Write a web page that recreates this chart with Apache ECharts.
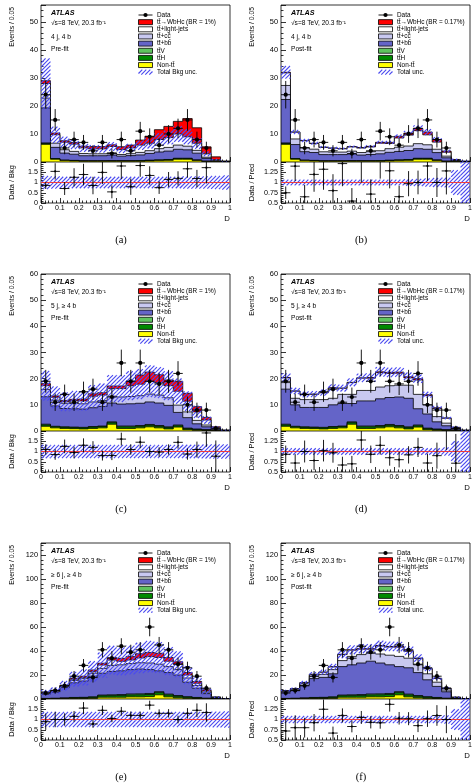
<!DOCTYPE html>
<html>
<head>
<meta charset="utf-8">
<script src="https://cdn.jsdelivr.net/npm/echarts@6/dist/echarts.min.js"></script>
<style>
html, body { margin: 0; padding: 0; background: #fff; }
#chart { width: 475px; height: 784px; }
</style>
</head>
<body>
<div id="chart"></div>
<script>
// bin edges of the discriminant D (20 bins of 0.05)
const binEdges = [0, 0.05, 0.1, 0.15, 0.2, 0.25, 0.3, 0.35, 0.4, 0.45, 0.5, 0.55, 0.6, 0.65, 0.7, 0.75, 0.8, 0.85, 0.9, 0.95, 1]

// ---- 4 j, 4 b ----
const dataRow1 = [24, 15, 5, 8, 7, 4, 7, 3, 8, 4, 11, 9, 6, 10, 12, 15, 8, 5, 0, 0]
const ntRow1 = [6.3, 1.0, 0.5, 0.4, 0.3, 0.3, 0.3, 0.3, 0.3, 0.3, 0.3, 0.4, 0.5, 0.6, 1.0, 1.0, 0.5, 0.2, 0.05, 0]
const tthRow1 = [0.3, 0.12, 0.1, 0.1, 0.08, 0.08, 0.08, 0.1, 0.1, 0.1, 0.12, 0.15, 0.15, 0.18, 0.2, 0.2, 0.15, 0.06, 0.02, 0]
const ttvRow1 = [0.2, 0.1, 0.08, 0.08, 0.06, 0.06, 0.06, 0.08, 0.08, 0.08, 0.1, 0.1, 0.12, 0.12, 0.14, 0.14, 0.1, 0.04, 0.01, 0]
const bbA = [12.5, 4.0, 2.5, 2.2, 1.8, 1.8, 1.8, 2.0, 1.6, 1.8, 2.0, 2.4, 2.8, 3.0, 3.2, 3.0, 2.4, 1.0, 0.3, 0.05]
const ccA = [3.5, 1.5, 1.2, 1.0, 0.8, 0.7, 0.7, 0.8, 0.6, 0.7, 0.9, 1.0, 1.2, 1.3, 1.5, 1.3, 1.0, 0.4, 0.1, 0.02]
const lightA = [5.2, 3.0, 2.7, 2.6, 2.0, 1.75, 1.75, 2.25, 1.75, 2.05, 2.6, 2.65, 3.25, 3.5, 3.95, 3.35, 2.55, 1.2, 0.35, 0.1]
const sigA = [1.0, 0.6, 0.5, 0.6, 0.6, 0.8, 0.8, 0.6, 1.0, 1.0, 1.8, 2.5, 3.5, 4.0, 4.5, 6.5, 5.5, 2.5, 1.0, 0.2]
const uncA = [0.32, 0.3, 0.28, 0.28, 0.28, 0.28, 0.28, 0.28, 0.28, 0.28, 0.28, 0.28, 0.28, 0.28, 0.28, 0.3, 0.3, 0.3, 0.32, 0.35]
const bbB = [15.5, 5.0, 3.0, 2.8, 2.2, 2.2, 2.2, 2.4, 2.0, 2.2, 2.4, 2.8, 3.0, 3.2, 3.4, 3.2, 2.6, 1.2, 0.3, 0.1]
const ccB = [5.0, 2.0, 1.5, 1.2, 1.0, 0.9, 0.9, 1.0, 0.9, 1.0, 1.1, 1.3, 1.5, 1.6, 1.8, 1.6, 1.2, 0.6, 0.15, 0.05]
const lightB = [4.5, 2.4, 2.4, 2.0, 1.55, 1.35, 1.15, 1.5, 1.6, 1.7, 2.7, 1.85, 3.3, 3.9, 4.65, 3.55, 2.55, 1.4, 0.22, 0.1]
const sigB = [0.2, 0.1, 0.1, 0.1, 0.1, 0.1, 0.1, 0.1, 0.2, 0.2, 0.3, 0.4, 0.6, 0.7, 0.8, 1.0, 0.9, 0.4, 0.15, 0.05]
const uncB = [0.07, 0.07, 0.07, 0.07, 0.07, 0.07, 0.07, 0.07, 0.07, 0.07, 0.07, 0.07, 0.07, 0.08, 0.09, 0.1, 0.11, 0.12, 0.3, 0.6]

// ---- 5 j, >= 4 b ----
const dataRow2 = [19, 11, 14, 11, 15, 16, 11, 13, 26, 19, 26, 19, 18, 19, 22, 10, 8, 8, 1, 0]
const ntRow2 = [1.8, 1.2, 1.0, 0.9, 0.8, 1.0, 1.2, 2.6, 1.0, 1.0, 1.2, 1.6, 1.2, 0.8, 1.5, 0.5, 0.3, 0.2, 0.1, 0]
const tthRow2 = [0.5, 0.4, 0.4, 0.4, 0.4, 0.5, 0.5, 0.6, 0.6, 0.6, 0.6, 0.6, 0.6, 0.5, 0.5, 0.4, 0.3, 0.2, 0.05, 0]
const ttvRow2 = [0.3, 0.2, 0.2, 0.2, 0.2, 0.2, 0.2, 0.3, 0.3, 0.3, 0.3, 0.3, 0.3, 0.3, 0.3, 0.2, 0.15, 0.1, 0.05, 0]
const bbC = [10.5, 7.8, 7.0, 7.0, 7.0, 7.2, 7.5, 7.2, 8.4, 8.5, 8.5, 8.6, 8.6, 8.2, 4.8, 4.0, 2.0, 1.1, 0.4, 0.1]
const ccC = [2.8, 2.2, 2.0, 2.0, 2.0, 2.2, 2.2, 2.6, 2.7, 2.8, 2.9, 3.0, 3.0, 2.9, 2.8, 2.2, 1.3, 0.7, 0.25, 0.05]
const lightC = [1.4, 1.1, 0.6, 1.1, 1.1, 2.2, 2.15, 2.9, 3.2, 4.1, 4.4, 4.9, 4.8, 4.6, 5.3, 4.1, 3.25, 1.9, 0.45, 0.15]
const sigC = [0.8, 0.5, 0.5, 0.5, 0.7, 0.9, 0.9, 1.0, 1.0, 1.8, 3.5, 3.5, 3.0, 2.2, 3.8, 3.0, 2.0, 1.0, 0.3, 0.05]
const uncC = [0.33, 0.32, 0.32, 0.32, 0.32, 0.32, 0.32, 0.32, 0.32, 0.32, 0.32, 0.32, 0.32, 0.32, 0.32, 0.33, 0.33, 0.34, 0.35, 0.35]
const bbD = [13.4, 8.2, 7.4, 7.5, 7.6, 8.3, 8.6, 7.0, 9.6, 9.6, 10.2, 10.3, 10.9, 10.9, 6.2, 5.4, 2.75, 1.5, 0.45, 0.15]
const ccD = [2.5, 2.5, 3.0, 3.0, 3.0, 2.5, 3.5, 3.5, 4.0, 4.0, 4.5, 4.5, 4.5, 5.0, 5.5, 3.5, 2.0, 1.0, 0.3, 0.05]
const lightD = [1.8, 2.7, 1.9, 2.0, 2.6, 3.9, 2.3, 4.5, 4.7, 4.7, 5.5, 4.7, 4.6, 2.8, 5.5, 3.5, 3.1, 1.85, 0.4, 0.1]
const sigD = [0.1, 0.1, 0.1, 0.1, 0.1, 0.1, 0.1, 0.1, 0.1, 0.2, 0.3, 0.4, 0.4, 0.4, 0.5, 0.4, 0.3, 0.15, 0.05, 0]
const uncD = [0.08, 0.08, 0.08, 0.08, 0.08, 0.08, 0.08, 0.08, 0.08, 0.08, 0.08, 0.08, 0.08, 0.08, 0.08, 0.08, 0.08, 0.1, 0.25, 0.5]

// ---- >= 6 j, >= 4 b ----
const dataRow3 = [5, 7, 11, 19, 28, 18, 41, 34, 44, 39, 41, 60, 45, 41, 29, 26, 19, 9, 0, 0]
const ntRow3 = [0.3, 0.3, 0.4, 0.5, 0.5, 0.6, 1.5, 1.5, 1.5, 1.8, 1.8, 2.0, 3.5, 1.8, 1.0, 0.6, 0.4, 0.2, 0.05, 0]
const tthRow3 = [0.1, 0.2, 0.3, 0.5, 0.6, 0.8, 1.2, 1.3, 1.5, 1.6, 1.7, 1.8, 1.8, 1.6, 1.3, 0.9, 0.6, 0.3, 0.1, 0]
const ttvRow3 = [0.1, 0.1, 0.2, 0.3, 0.3, 0.4, 0.6, 0.7, 0.7, 0.8, 0.8, 0.8, 0.8, 0.7, 0.6, 0.4, 0.3, 0.15, 0.05, 0]
const bbE = [3.5, 5.2, 8.6, 12.2, 13.6, 17.2, 18.2, 19.5, 19.8, 20.3, 20.7, 19.9, 17.4, 17.9, 17.1, 12.1, 7.7, 3.85, 0.8, 0.2]
const ccE = [0.8, 0.8, 1.0, 2.0, 2.0, 2.5, 4.0, 5.0, 5.0, 5.0, 5.2, 5.5, 5.5, 5.0, 4.5, 3.5, 2.3, 1.2, 0.25, 0.05]
const lightE = [0.8, 0.4, 0.5, 1.0, 1.0, 1.5, 2.8, 4.4, 2.9, 3.0, 4.0, 5.3, 5.6, 4.5, 4.5, 2.5, 1.8, 1.0, 0.2, 0.05]
const sigE = [0.2, 0.3, 0.5, 0.8, 1.0, 1.2, 1.5, 2.0, 2.5, 3.0, 3.5, 3.5, 3.5, 3.0, 2.0, 2.0, 1.5, 1.0, 0.3, 0.05]
const uncE = [0.37, 0.37, 0.37, 0.37, 0.37, 0.37, 0.37, 0.37, 0.37, 0.37, 0.37, 0.37, 0.37, 0.37, 0.37, 0.37, 0.37, 0.37, 0.38, 0.4]
const bbF = [5.5, 6.4, 10.6, 15.7, 16.6, 19.2, 23.7, 25.0, 26.3, 27.3, 25.7, 23.9, 20.9, 21.9, 19.1, 14.1, 9.2, 5.35, 0.8, 0.2]
const ccF = [0.6, 1.0, 1.5, 2.0, 2.5, 3.5, 5.0, 7.0, 7.0, 6.5, 7.5, 8.0, 8.5, 8.0, 6.5, 5.0, 3.5, 1.5, 0.3, 0.1]
const lightF = [0.3, 0.7, 0.65, 1.5, 1.75, 2.2, 5.05, 5.2, 4.55, 3.5, 6.6, 6.8, 7.7, 5.75, 5.25, 4.2, 3.05, 1.35, 0.15, 0.1]
const sigF = [0.05, 0.05, 0.1, 0.1, 0.15, 0.2, 0.25, 0.3, 0.35, 0.4, 0.5, 0.5, 0.5, 0.45, 0.35, 0.3, 0.25, 0.15, 0.05, 0]
const uncF = [0.09, 0.09, 0.09, 0.09, 0.09, 0.09, 0.09, 0.09, 0.09, 0.09, 0.09, 0.09, 0.09, 0.09, 0.09, 0.09, 0.09, 0.1, 0.25, 0.5]

const SANS = '"Liberation Sans", Arial, Helvetica, sans-serif'
const SERIF = '"Liberation Serif", "Times New Roman", serif'
const HATCH_COLOR = '#4a4af0'

// stack order bottom -> top: Non-tt, ttH, ttV, tt+bb, tt+cc, tt+light, signal
const layerColors = ['#ffff00', '#008a00', '#5fc35f', '#6464c8', '#c8c8f0', '#ffffff', '#ff0000']

const panels = [
    { tag: '(a)', row: 0, col: 0, data: dataRow1, layers: [ntRow1, tthRow1, ttvRow1, bbA, ccA, lightA, sigA], unc: uncA, prefit: true, channel: '4 j, 4 b' },
    { tag: '(b)', row: 0, col: 1, data: dataRow1, layers: [ntRow1, tthRow1, ttvRow1, bbB, ccB, lightB, sigB], unc: uncB, prefit: false, channel: '4 j, 4 b' },
    { tag: '(c)', row: 1, col: 0, data: dataRow2, layers: [ntRow2, tthRow2, ttvRow2, bbC, ccC, lightC, sigC], unc: uncC, prefit: true, channel: '5 j, \u2265 4 b' },
    { tag: '(d)', row: 1, col: 1, data: dataRow2, layers: [ntRow2, tthRow2, ttvRow2, bbD, ccD, lightD, sigD], unc: uncD, prefit: false, channel: '5 j, \u2265 4 b' },
    { tag: '(e)', row: 2, col: 0, data: dataRow3, layers: [ntRow3, tthRow3, ttvRow3, bbE, ccE, lightE, sigE], unc: uncE, prefit: true, channel: '\u2265 6 j, \u2265 4 b' },
    { tag: '(f)', row: 2, col: 1, data: dataRow3, layers: [ntRow3, tthRow3, ttvRow3, bbF, ccF, lightF, sigF], unc: uncF, prefit: false, channel: '\u2265 6 j, \u2265 4 b' }
]

const rows = [
    { top: 5, mainH: 157, ratioH: 41, yMax: 56, yInt: 10, showMax: false },
    { top: 274, mainH: 157, ratioH: 41, yMax: 60, yInt: 10, showMax: true },
    { top: 543, mainH: 156, ratioH: 41, yMax: 130, yInt: 20, showMax: false }
]
const colLeft = [41, 281]
const plotW = 189

// diagonal hatch lines (///) inside a pixel rectangle, aligned on a global lattice
function hatchLines(x0, y0, x1, y1) {
    const out = []
    const step = 4
    const cStart = Math.ceil((x0 + y0) / step) * step
    for (let c = cStart; c <= x1 + y1; c += step) {
        const xa = Math.max(x0, c - y1)
        const xb = Math.min(x1, c - y0)
        if (xb - xa > 0.2) {
            out.push({ type: 'line', shape: { x1: xa, y1: c - xa, x2: xb, y2: c - xb }, style: { stroke: HATCH_COLOR, lineWidth: 1.15 } })
        }
    }
    return out
}

// one data item holds the cumulative heights of a stack layer; drawn like a ROOT histogram
function stackRenderer(color) {
    return function (params, api) {
        const n = binEdges.length - 1
        const pts = [api.coord([binEdges[0], 0])]
        for (let i = 0; i < n; i++) {
            const v = api.value(i)
            pts.push(api.coord([binEdges[i], v]))
            pts.push(api.coord([binEdges[i + 1], v]))
        }
        pts.push(api.coord([binEdges[n], 0]))
        return { type: 'polygon', shape: { points: pts }, style: { fill: color, stroke: '#000', lineWidth: 0.8 } }
    }
}

function bandRenderer(params, api) {
    const a = api.coord([api.value(0), api.value(3)])
    const b = api.coord([api.value(1), api.value(2)])
    return { type: 'group', children: hatchLines(a[0], a[1], b[0], b[1]) }
}

function pointRenderer(radius) {
    return function (params, api) {
        const x0 = api.value(0), x1 = api.value(1), y = api.value(2), e = api.value(3)
        const xm = (x0 + x1) / 2
        const pl = api.coord([x0, y]), pr = api.coord([x1, y])
        const pt = api.coord([xm, y + e]), pb = api.coord([xm, y - e])
        const st = { stroke: '#000', lineWidth: 0.9 }
        const children = [
            { type: 'line', shape: { x1: pl[0], y1: pl[1], x2: pr[0], y2: pr[1] }, style: st },
            { type: 'line', shape: { x1: pt[0], y1: pt[1], x2: pb[0], y2: pb[1] }, style: st }
        ]
        if (radius > 0) {
            const c = api.coord([xm, y])
            children.push({ type: 'circle', shape: { cx: c[0], cy: c[1], r: radius }, style: { fill: '#000' } })
        }
        return { type: 'group', children }
    }
}

const tickStyle = { color: '#000', width: 0.8 }
function xAxisCfg(gi, labels) {
    return {
        type: 'value', gridIndex: gi, min: 0, max: 1, interval: 0.1,
        axisLine: { show: false },
        axisTick: { show: true, inside: true, length: 5, lineStyle: tickStyle },
        minorTick: { show: true, splitNumber: 5, length: 2.5, lineStyle: tickStyle },
        splitLine: { show: false },
        axisLabel: { show: labels, color: '#000', fontFamily: SANS, fontSize: 7, margin: 2 }
    }
}
function yAxisCfg(gi, min, max, interval, showMax, fontSize) {
    return {
        type: 'value', gridIndex: gi, min, max, interval,
        axisLine: { show: false },
        axisTick: { show: true, inside: true, length: 5, lineStyle: tickStyle },
        minorTick: { show: true, splitNumber: 5, length: 2.5, lineStyle: tickStyle },
        splitLine: { show: false },
        axisLabel: { color: '#000', fontFamily: SANS, fontSize, margin: 3, showMaxLabel: showMax, showMinLabel: true }
    }
}

function txt(x, y, text, opts) {
    const o = opts || {}
    return {
        type: 'text', x, y, rotation: o.rotation || 0, silent: true, z: 100,
        style: {
            text, fill: '#000',
            font: (o.italic ? 'italic ' : '') + (o.weight || 'normal') + ' ' + (o.size || 6.6) + 'px ' + (o.family || SANS),
            fontStyle: o.italic ? 'italic' : 'normal',
            fontWeight: o.weight || 'normal',
            fontSize: o.size || 6.6,
            fontFamily: o.family || SANS,
            textAlign: o.align || 'left', align: o.align || 'left',
            textVerticalAlign: 'middle', verticalAlign: 'middle'
        }
    }
}

const grids = [], xAxes = [], yAxes = [], series = [], graphics = []

panels.forEach((p, k) => {
    const r = rows[p.row]
    const left = colLeft[p.col]
    const mi = grids.length
    const ri = mi + 1
    const ratioTop = r.top + r.mainH
    const ratioBottom = ratioTop + r.ratioH

    grids.push({ left, top: r.top, width: plotW, height: r.mainH, show: true, borderColor: '#000', borderWidth: 0.8, backgroundColor: '#fff' })
    grids.push({ left, top: ratioTop, width: plotW, height: r.ratioH, show: true, borderColor: '#000', borderWidth: 0.8, backgroundColor: '#fff' })
    xAxes.push(xAxisCfg(mi, false), xAxisCfg(ri, true))
    yAxes.push(yAxisCfg(mi, 0, r.yMax, r.yInt, r.showMax, 7.4))
    if (p.prefit) yAxes.push(yAxisCfg(ri, 0, 2, 0.5, false, 7.2))
    else yAxes.push(yAxisCfg(ri, 0.5, 1.5, 0.25, false, 7.2))

    // cumulative stack heights, bottom layer first
    const cum = []
    p.layers.forEach((vals, j) => {
        cum.push(vals.map((v, i) => v + (j > 0 ? cum[j - 1][i] : 0)))
    })
    const bkg = cum[5]
    const pred = cum[6]
    const ref = p.prefit ? bkg : pred

    // stacked histograms, drawn top layer first so lower layers paint over it
    for (let j = p.layers.length - 1; j >= 0; j--) {
        series.push({
            type: 'custom', xAxisIndex: mi, yAxisIndex: mi, z: 10 + (6 - j), silent: true, clip: true,
            data: [cum[j]],
            renderItem: stackRenderer(layerColors[j])
        })
    }
    // uncertainty band on main pad
    series.push({
        type: 'custom', xAxisIndex: mi, yAxisIndex: mi, z: 20, silent: true, clip: true,
        data: ref.map((t, i) => [binEdges[i], binEdges[i + 1], t * (1 - p.unc[i]), t * (1 + p.unc[i])]),
        renderItem: bandRenderer
    })
    // data points
    const pts = []
    p.data.forEach((n, i) => { if (n > 0) pts.push([binEdges[i], binEdges[i + 1], n, Math.sqrt(n)]) })
    series.push({
        type: 'custom', xAxisIndex: mi, yAxisIndex: mi, z: 30, silent: true, clip: true,
        data: pts, renderItem: pointRenderer(2.1)
    })

    // ratio pad
    series.push({
        type: 'custom', xAxisIndex: ri, yAxisIndex: ri, z: 20, silent: true, clip: true,
        data: p.unc.map((u, i) => [binEdges[i], binEdges[i + 1], 1 - u, 1 + u]),
        renderItem: bandRenderer
    })
    series.push({
        type: 'line', xAxisIndex: ri, yAxisIndex: ri, z: 25, silent: true, symbol: 'none',
        lineStyle: { color: '#f03c3c', width: 1 },
        data: [[0, 1], [1, 1]]
    })
    const rpts = []
    p.data.forEach((n, i) => { if (n > 0) rpts.push([binEdges[i], binEdges[i + 1], n / ref[i], Math.sqrt(n) / ref[i]]) })
    series.push({
        type: 'custom', xAxisIndex: ri, yAxisIndex: ri, z: 30, silent: true, clip: true,
        data: rpts, renderItem: pointRenderer(1.1)
    })

    // texts
    const tx = left + 10
    graphics.push(txt(tx, r.top + 8, 'ATLAS', { weight: 'bold', italic: true, size: 7.2 }))
    graphics.push(txt(tx, r.top + 18, '\u221As=8 TeV, 20.3 fb\u207B\u00B9', { size: 6.6 }))
    graphics.push(txt(tx, r.top + 32, p.channel, { size: 6.6 }))
    graphics.push(txt(tx, r.top + 44, p.prefit ? 'Pre-fit' : 'Post-fit', { size: 6.6 }))

    // legend
    const lx = left + 97.5, lw = 14, bh = 5, ltx = left + 116
    const labels = [
        'Data',
        'tt\u0304\u2192WbHc (BR = ' + (p.prefit ? '1%' : '0.17%') + ')',
        'tt\u0304+light-jets',
        'tt\u0304+cc\u0304',
        'tt\u0304+bb\u0304',
        'tt\u0304V',
        'tt\u0304H',
        'Non-tt\u0304',
        p.prefit ? 'Total Bkg unc.' : 'Total unc.'
    ]
    const boxColors = [null, layerColors[6], layerColors[5], layerColors[4], layerColors[3], layerColors[2], layerColors[1], layerColors[0], null]
    labels.forEach((lab, i) => {
        const ly = r.top + 10 + 7.15 * i
        if (i === 0) {
            graphics.push({ type: 'line', silent: true, z: 100, shape: { x1: lx, y1: ly, x2: lx + lw, y2: ly }, style: { stroke: '#000', lineWidth: 0.9 } })
            graphics.push({ type: 'circle', silent: true, z: 100, shape: { cx: lx + lw / 2, cy: ly, r: 2.1 }, style: { fill: '#000' } })
        } else if (i === 8) {
            graphics.push({ type: 'group', silent: true, z: 100, children: hatchLines(lx, ly - bh / 2, lx + lw, ly + bh / 2) })
        } else {
            graphics.push({ type: 'rect', silent: true, z: 100, shape: { x: lx, y: ly - bh / 2, width: lw, height: bh }, style: { fill: boxColors[i], stroke: '#000', lineWidth: 0.8 } })
        }
        graphics.push(txt(ltx, ly, lab, { size: 6.4 }))
    })

    // axis titles
    graphics.push(txt(left - 29, r.top + 2, 'Events / 0.05', { size: 6.8, rotation: Math.PI / 2, align: 'right' }))
    graphics.push(txt(left - 29, ratioTop + r.ratioH / 2, p.prefit ? 'Data / Bkg' : 'Data / Pred', { size: 7.4, rotation: Math.PI / 2, align: 'center' }))
    graphics.push(txt(left + plotW, ratioBottom + 16, 'D', { size: 7.8, align: 'right' }))
    graphics.push(txt(left + 80, ratioBottom + 37, p.tag, { size: 10.5, family: SERIF, align: 'center' }))
})

const chart = echarts.init(document.getElementById('chart'), null, { renderer: 'canvas' })
chart.setOption({
    animation: false,
    backgroundColor: '#fff',
    grid: grids,
    xAxis: xAxes,
    yAxis: yAxes,
    series,
    graphic: graphics
})
</script>
</body>
</html>
